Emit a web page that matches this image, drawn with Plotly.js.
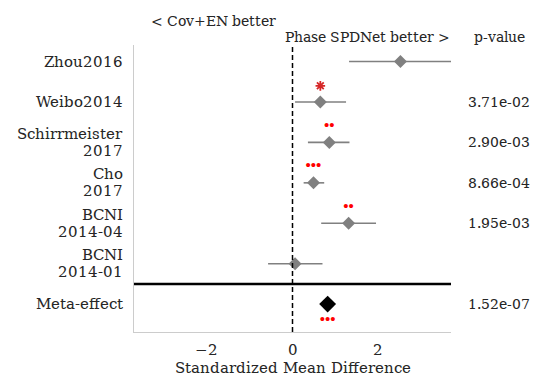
<!DOCTYPE html>
<html>
<head>
<meta charset="utf-8">
<script src="https://cdn.plot.ly/plotly-3.0.1.min.js"></script>
<style>
  @font-face { font-family: 'DVSerif'; src: local('DejaVu Serif'), local('DejaVuSerif'); }
  html, body { margin: 0; padding: 0; background: #fff; }
  #chart { width: 548px; height: 392px; }
</style>
</head>
<body>
<div id="chart"></div>
<script>
// studies, top to bottom
var studies = ['Zhou2016', 'Weibo2014', 'Schirrmeister<br>2017', 'Cho<br>2017', 'BCNI<br>2014-04', 'BCNI<br>2014-01'];
var rowPos = [6, 5, 4, 3, 2, 1];
var smd = [2.52, 0.65, 0.86, 0.49, 1.31, 0.06];
var ciLow = [1.32, 0.06, 0.36, 0.26, 0.67, -0.57];
var ciHigh = [3.95, 1.25, 1.33, 0.74, 1.95, 0.70];
var stars = ['', '*', '••', '•••', '••', ''];
var pvals = ['', '3.71e-02', '2.90e-03', '8.66e-04', '1.95e-03', ''];

var metaLabel = 'Meta-effect';
var metaPos = 0;
var metaSmd = 0.82;
var metaStars = '•••';
var metaP = '1.52e-07';

var gray = '#808080';
var txt = '#262626';
var serif = 'DVSerif';
var dotFont = {family: 'Liberation Sans', size: 15, color: 'red'};

var draw = function () {
    // CI segments
    var ciX = [], ciY = [];
    for (var i = 0; i < studies.length; i++) {
        ciX.push(ciLow[i], ciHigh[i], null);
        ciY.push(rowPos[i], rowPos[i], null);
    }

    var starOffset = 0.4;
    var starY = rowPos.map(function (r) { return r + starOffset; });

    var data = [
        {
            x: ciX, y: ciY, mode: 'lines', type: 'scatter',
            line: {color: gray, width: 1.6},
            hoverinfo: 'skip'
        },
        {
            x: smd, y: rowPos, mode: 'markers', type: 'scatter',
            marker: {symbol: 'diamond', color: gray, size: 10}
        },
        {
            x: [metaSmd], y: [metaPos], mode: 'markers', type: 'scatter',
            marker: {symbol: 'diamond', color: '#000', size: 13}
        },
        {
            // single star
            x: smd.slice(1, 2), y: starY.slice(1, 2), mode: 'markers', type: 'scatter',
            marker: {symbol: 'asterisk-open', size: 8, line: {color: 'red', width: 1.8}}
        },
        {
            x: smd.slice(2), y: starY.slice(2), mode: 'text', type: 'scatter',
            text: stars.slice(2), textposition: 'middle center',
            textfont: dotFont
        },
        {
            x: [metaSmd], y: [metaPos - starOffset], mode: 'text', type: 'scatter',
            text: [metaStars], textposition: 'middle center',
            textfont: dotFont
        }
    ];

    var annotations = [];
    var allRows = rowPos.concat([metaPos]);
    var allLabels = studies.concat([metaLabel]);
    var allP = pvals.concat([metaP]);
    var lineGap = 17;
    for (var j = 0; j < allRows.length; j++) {
        // row labels, one annotation per line to keep the line spacing tight
        var parts = allLabels[j].split('<br>');
        for (var p = 0; p < parts.length; p++) {
            annotations.push({
                x: 0, xref: 'paper', y: allRows[j], yref: 'y',
                text: parts[p], showarrow: false,
                xanchor: 'right', yanchor: 'middle', xshift: -9,
                yshift: ((parts.length - 1) / 2 - p) * lineGap,
                font: {family: serif, size: 15, color: txt}
            });
        }
        if (!allP[j]) continue;
        annotations.push({
            x: 1.152, xref: 'paper', y: allRows[j], yref: 'y',
            text: allP[j], showarrow: false, xanchor: 'center',
            font: {family: serif, size: 14, color: txt}
        });
    }

    var L = 134, R = 97, T = 45, B = 60, W = 548, H = 392;
    var pw = W - L - R, ph = H - T - B;
    // header texts, given in pixels and converted to paper coords
    var headers = [
        {text: '< Cov+EN better', px: 213, py: 21},
        {text: 'Phase SPDNet better >', px: 367, py: 37},
        {text: 'p-value', px: 499, py: 37}
    ];
    headers.forEach(function (h) {
        annotations.push({
            x: (h.px - L) / pw, xref: 'paper', y: (H - B - h.py) / ph, yref: 'paper',
            text: h.text, showarrow: false, xanchor: 'center', yanchor: 'middle',
            font: {family: serif, size: 14, color: txt}
        });
    });

    var layout = {
        width: W, height: H,
        margin: {l: L, r: R, t: T, b: B},
        paper_bgcolor: '#fff', plot_bgcolor: '#fff',
        showlegend: false,
        font: {family: serif, size: 14, color: txt},
        xaxis: {
            range: [-3.7, 3.7],
            tickvals: [-2, 0, 2], ticktext: ['\u22122', '0', '2'],
            showgrid: false, zeroline: false,
            showline: true, linecolor: '#cccccc', linewidth: 1,
            ticks: '', ticklabelstandoff: 4,
            tickfont: {family: serif, size: 15, color: txt},
            title: {text: 'Standardized Mean Difference', font: {family: serif, size: 15, color: txt}, standoff: 4}
        },
        yaxis: {
            range: [-0.69, 6.41],
            showgrid: false, zeroline: false,
            showline: true, linecolor: '#cccccc', linewidth: 1,
            ticks: '', showticklabels: false
        },
        shapes: [
            {type: 'line', xref: 'x', yref: 'paper', x0: 0, x1: 0, y0: 0, y1: 1,
             line: {color: '#000', width: 1.5, dash: '5px,3px'}},
            {type: 'line', xref: 'paper', yref: 'y', x0: 0, x1: 1, y0: 0.5, y1: 0.5,
             line: {color: '#000', width: 2.5}}
        ],
        annotations: annotations
    };

    Plotly.newPlot('chart', data, layout, {displayModeBar: false});
};

if (document.fonts && document.fonts.load) {
    document.fonts.load('15px DVSerif').then(draw, draw);
} else {
    draw();
}
</script>
</body>
</html>
